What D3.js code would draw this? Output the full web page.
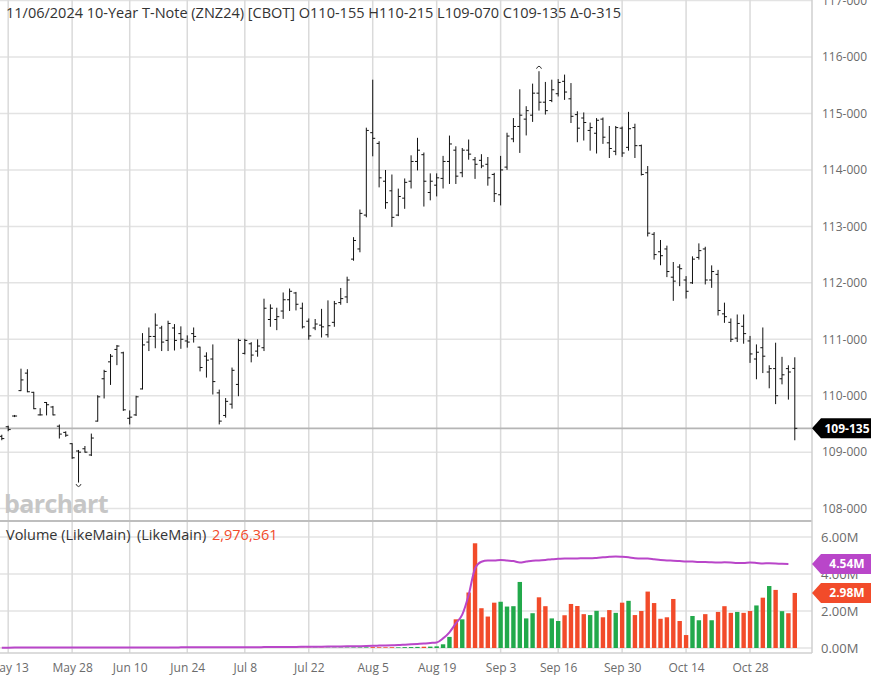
<!DOCTYPE html>
<html>
<head>
<meta charset="utf-8">
<script src="https://cdn.jsdelivr.net/npm/d3@7"></script>
<style>
  html, body { margin: 0; padding: 0; background: #fff; }
  svg { display: block; font-family: "Open Sans", sans-serif; }
</style>
</head>
<body>
<div id="chart"></div>
<script>
// ---- data (ZNZ24 daily) ----
const dates = [
  "2024-05-10","2024-05-13","2024-05-14","2024-05-15","2024-05-16","2024-05-17","2024-05-20","2024-05-21","2024-05-22","2024-05-23","2024-05-24","2024-05-28","2024-05-29","2024-05-30","2024-05-31",
  "2024-06-03","2024-06-04","2024-06-05","2024-06-06","2024-06-07","2024-06-10","2024-06-11","2024-06-12","2024-06-13","2024-06-14","2024-06-17","2024-06-18","2024-06-20","2024-06-21","2024-06-24","2024-06-25","2024-06-26","2024-06-27","2024-06-28",
  "2024-07-01","2024-07-02","2024-07-03","2024-07-05","2024-07-08","2024-07-09","2024-07-10","2024-07-11","2024-07-12","2024-07-15","2024-07-16","2024-07-17","2024-07-18","2024-07-19","2024-07-22","2024-07-23","2024-07-24","2024-07-25","2024-07-26","2024-07-29","2024-07-30","2024-07-31",
  "2024-08-01","2024-08-02","2024-08-05","2024-08-06","2024-08-07","2024-08-08","2024-08-09","2024-08-12","2024-08-13","2024-08-14","2024-08-15","2024-08-16","2024-08-19","2024-08-20","2024-08-21","2024-08-22","2024-08-23","2024-08-26","2024-08-27","2024-08-28","2024-08-29","2024-08-30",
  "2024-09-03","2024-09-04","2024-09-05","2024-09-06","2024-09-09","2024-09-10","2024-09-11","2024-09-12","2024-09-13","2024-09-16","2024-09-17","2024-09-18","2024-09-19","2024-09-20","2024-09-23","2024-09-24","2024-09-25","2024-09-26","2024-09-27","2024-09-30",
  "2024-10-01","2024-10-02","2024-10-03","2024-10-04","2024-10-07","2024-10-08","2024-10-09","2024-10-10","2024-10-11","2024-10-14","2024-10-15","2024-10-16","2024-10-17","2024-10-18","2024-10-21","2024-10-22","2024-10-23","2024-10-24","2024-10-25","2024-10-28","2024-10-29","2024-10-30","2024-10-31",
  "2024-11-01","2024-11-04","2024-11-05","2024-11-06"
];

const opens = [
  109.28,109.45,109.64,110.09,110.40,110.06,109.66,109.88,109.80,109.46,109.35,109.15,109.02,109.06,108.95,
  109.55,110.30,110.60,110.82,110.76,109.60,109.66,110.12,110.95,111.05,111.20,110.98,111.20,111.10,110.97,111.10,110.86,110.70,110.65,
  110.05,109.65,109.85,110.20,110.75,110.92,110.79,110.85,111.35,111.35,111.50,111.70,111.82,111.55,111.32,111.20,111.25,111.08,111.30,111.65,111.75,112.42,
  112.60,113.20,114.66,114.47,113.80,113.63,113.20,113.50,113.80,114.15,114.27,113.60,113.73,113.85,114.15,114.35,113.95,114.35,114.18,114.17,114.10,113.92,
  113.56,114.05,114.55,114.77,114.90,114.97,115.36,115.20,115.23,115.35,115.57,115.26,114.98,114.92,114.70,114.65,114.90,114.48,114.33,114.74,
  114.40,114.75,114.43,113.95,112.86,112.55,112.60,112.10,112.28,112.05,112.00,112.45,112.60,112.05,112.15,111.45,111.30,111.02,111.23,110.97,110.65,110.85,110.42,
  110.48,110.30,110.48,110.484
];
const highs = [
  109.30,109.46,109.65,110.47,110.46,110.06,109.77,109.88,109.81,109.48,109.36,109.15,109.03,109.10,109.32,
  110.00,110.45,110.73,110.89,110.77,109.73,109.99,111.10,111.20,111.45,111.23,111.32,111.26,111.22,111.06,111.20,110.86,110.76,110.90,
  110.10,109.95,110.49,111.00,111.00,110.94,110.99,111.71,111.61,111.55,111.82,111.89,111.83,111.64,111.36,111.35,111.53,111.68,111.67,111.90,112.10,112.80,
  113.29,114.74,115.59,114.50,113.99,113.91,113.66,113.84,114.25,114.56,114.30,113.93,113.93,114.24,114.60,114.41,114.38,114.53,114.22,114.27,114.22,113.94,
  114.24,114.65,114.91,115.42,115.12,115.52,115.74,115.55,115.59,115.60,115.68,115.53,115.03,115.01,114.83,114.91,114.92,114.77,114.77,114.76,
  115.02,114.81,114.44,114.06,112.89,112.75,112.65,112.36,112.32,112.11,112.46,112.69,112.63,112.30,112.22,111.64,111.36,111.43,111.43,111.05,110.90,111.20,110.53,
  110.93,110.68,110.53,110.672
];
const lows = [
  109.22,109.38,109.63,110.09,110.07,109.77,109.66,109.66,109.66,109.25,109.28,108.89,108.47,109.00,108.94,
  109.55,109.96,110.20,110.55,109.74,109.50,109.65,110.12,110.80,110.85,110.80,110.80,110.81,110.84,110.86,110.95,110.44,110.33,110.03,
  109.50,109.62,109.78,110.00,110.74,110.60,110.70,110.80,111.23,111.17,111.37,111.51,111.52,111.20,111.00,111.17,111.04,111.04,111.23,111.62,111.65,112.40,
  112.55,113.17,114.25,113.70,113.32,113.00,113.19,113.32,113.68,114.00,113.36,113.47,113.54,113.68,113.76,113.76,113.88,114.19,113.85,114.04,113.73,113.44,
  113.38,114.01,114.50,114.31,114.62,114.86,115.06,114.99,115.21,115.31,115.25,114.84,114.50,114.53,114.35,114.30,114.47,114.22,114.27,114.24,
  114.35,114.22,113.91,112.83,112.42,112.32,112.11,111.69,111.95,111.73,111.99,112.42,111.98,111.92,111.43,111.30,110.96,110.96,110.93,110.59,110.30,110.41,110.14,
  109.86,110.21,109.94,109.219
];
const closes = [
  109.24,109.40,109.64,110.28,110.07,109.77,109.66,109.84,109.66,109.32,109.30,108.90,109.00,109.00,109.25,
  109.98,110.43,110.70,110.88,109.75,109.62,109.98,110.90,111.05,111.25,110.95,111.28,110.98,111.00,110.95,111.05,110.50,110.63,110.25,
  109.55,109.90,110.45,110.98,110.98,110.72,110.88,111.55,111.55,111.40,111.70,111.85,111.62,111.22,111.06,111.27,111.22,111.24,111.63,111.72,112.05,112.75,
  113.23,114.70,114.56,113.86,113.42,113.16,113.53,113.78,114.15,114.35,113.80,113.80,113.86,114.15,114.46,113.89,114.35,114.28,114.10,114.07,113.86,113.58,
  114.00,114.60,114.77,114.97,115.05,115.36,115.20,115.05,115.42,115.55,115.38,114.95,114.74,114.84,114.75,114.88,114.58,114.38,114.75,114.30,
  114.73,114.43,113.92,112.88,112.50,112.48,112.20,112.03,112.25,111.85,112.42,112.57,112.05,112.20,111.51,111.40,111.00,111.28,111.10,110.74,110.77,110.70,110.48,
  110.00,110.37,110.42,109.422
];

// volume and open interest, millions of contracts
const volumes = [
  0.004,0.003,0.002,0.005,0.004,0.003,0.003,0.004,0.003,0.005,0.004,0.006,0.007,0.005,0.006,
  0.005,0.006,0.007,0.005,0.008,0.006,0.007,0.009,0.008,0.007,0.006,0.008,0.007,0.006,0.008,0.009,0.007,0.008,0.010,
  0.009,0.010,0.008,0.007,0.011,0.010,0.012,0.013,0.011,0.012,0.014,0.013,0.015,0.014,0.016,0.018,0.017,0.019,0.020,0.022,0.024,0.028,
  0.030,0.035,0.045,0.040,0.038,0.042,0.036,0.048,0.052,0.060,0.070,0.075,0.090,0.20,0.60,1.55,1.55,3.00,5.66,2.15,1.70,2.45,
  2.50,2.24,2.26,3.57,1.60,1.88,2.74,2.26,1.60,1.46,1.77,2.38,2.27,1.83,1.78,2.01,1.66,2.05,1.90,2.45,
  2.55,1.78,2.00,3.05,2.43,1.58,1.66,2.65,1.46,0.70,1.73,1.50,1.83,1.50,1.95,2.26,1.90,1.95,1.90,2.00,2.30,2.72,3.35,
  3.14,1.99,1.88,2.976
];
const openInterest = [
  0.020,0.020,0.021,0.021,0.022,0.022,0.023,0.023,0.024,0.024,0.025,0.025,0.026,0.026,0.027,
  0.027,0.028,0.028,0.029,0.029,0.030,0.030,0.031,0.031,0.032,0.032,0.033,0.033,0.034,0.035,0.035,0.036,0.037,0.038,
  0.039,0.040,0.041,0.042,0.043,0.045,0.046,0.048,0.050,0.052,0.054,0.056,0.059,0.062,0.065,0.068,0.072,0.076,0.080,0.085,0.090,0.096,
  0.10,0.11,0.12,0.13,0.14,0.15,0.16,0.18,0.20,0.22,0.24,0.27,0.30,0.52,0.85,1.33,1.80,2.86,4.30,4.66,4.73,4.73,
  4.76,4.73,4.70,4.62,4.67,4.72,4.73,4.76,4.80,4.82,4.84,4.84,4.84,4.85,4.85,4.87,4.90,4.93,4.95,4.93,
  4.90,4.85,4.84,4.84,4.80,4.76,4.73,4.72,4.70,4.68,4.67,4.65,4.65,4.63,4.62,4.63,4.62,4.60,4.60,4.62,4.60,4.57,4.58,
  4.57,4.55,4.54,null
];

const tickDates = ["2024-05-13","2024-05-28","2024-06-10","2024-06-24","2024-07-08","2024-07-22","2024-08-05","2024-08-19","2024-09-03","2024-09-16","2024-09-30","2024-10-14","2024-10-28"];
const priceTicks = [108,109,110,111,112,113,114,115,116,117];
const volumeTicks = [0,2,4,6];

const headerText = "11/06/2024 10-Year T-Note (ZNZ24) [CBOT] O110-155 H110-215 L109-070 C109-135 \u0394-0-315";
const lastVolumeText = "2,976,361";

// ---- layout ----
const width = 874, height = 681;
const plotRight = 812;
const priceBottom = 520;
const volTop = 522, volBottom = 653;

const UP = "#22a94b", DOWN = "#f24b2a", PURPLE = "#b946c9";

const svg = d3.select("#chart").append("svg")
  .attr("width", width)
  .attr("height", height);

const x = d3.scaleLinear().domain([0, dates.length - 1]).range([1.8, 794.8]);
const y = d3.scaleLinear().domain([108, 117]).range([508.6, 0.6]);
const yv = d3.scaleLinear().domain([0, 6]).range([648, 537]);

const parse = d3.utcParse("%Y-%m-%d");
const fmtDate = d3.utcFormat("%b %-d");
const tickIdx = tickDates.map(d => dates.indexOf(d));
const fmtPrice = p => `${p}-000`;
const fmt32 = p => {
  const whole = Math.floor(p);
  const t = Math.round((p - whole) * 320);
  return `${whole}-${String(t).padStart(3, "0")}`;
};

svg.append("defs").append("clipPath").attr("id", "clipPrice")
  .append("rect").attr("x", 0).attr("y", 0).attr("width", plotRight).attr("height", priceBottom);
svg.select("defs").append("clipPath").attr("id", "clipVol")
  .append("rect").attr("x", 0).attr("y", volTop).attr("width", plotRight).attr("height", volBottom - volTop);

// =====================
// GRID
// =====================
const grid = svg.append("g").attr("stroke", "#e3e3e3").attr("stroke-width", 1.5);

grid.selectAll("line.hp").data(priceTicks).join("line")
  .attr("x1", 0).attr("x2", plotRight)
  .attr("y1", d => y(d)).attr("y2", d => y(d));

grid.append("g").selectAll("line").data(volumeTicks).join("line")
  .attr("x1", 0).attr("x2", plotRight)
  .attr("y1", d => yv(d)).attr("y2", d => yv(d));

grid.append("g").selectAll("line").data(tickIdx).join("line")
  .attr("stroke", "#dadada")
  .attr("x1", d => x(d)).attr("x2", d => x(d))
  .attr("y1", 0).attr("y2", priceBottom);

grid.append("g").selectAll("line").data(tickIdx).join("line")
  .attr("stroke", "#dadada")
  .attr("x1", d => x(d)).attr("x2", d => x(d))
  .attr("y1", volTop).attr("y2", volBottom);

// frame lines
svg.append("line").attr("x1", 0).attr("x2", plotRight).attr("y1", 521).attr("y2", 521)
  .attr("stroke", "#a8a8a8").attr("stroke-width", 1.5);
svg.append("line").attr("x1", 0).attr("x2", plotRight).attr("y1", volBottom).attr("y2", volBottom)
  .attr("stroke", "#d0d0d0").attr("stroke-width", 1.5);
svg.append("line").attr("x1", plotRight).attr("x2", plotRight).attr("y1", 0).attr("y2", volBottom)
  .attr("stroke", "#cfcfcf").attr("stroke-width", 1.5);

// =====================
// WATERMARK
// =====================
svg.append("text")
  .attr("x", 4).attr("y", 513)
  .attr("font-size", 25).attr("font-weight", 700)
  .attr("letter-spacing", -0.6)
  .attr("fill", "#c6c6c6")
  .text("barchart");

// =====================
// LAST PRICE LINE
// =====================
const lastClose = closes[closes.length - 1];
svg.append("line")
  .attr("x1", 0).attr("x2", plotRight)
  .attr("y1", y(lastClose)).attr("y2", y(lastClose))
  .attr("stroke", "#b5b5b5").attr("stroke-width", 1.8);

// =====================
// OHLC BARS
// =====================
const bars = svg.append("g").attr("clip-path", "url(#clipPrice)")
  .attr("stroke", "#111").attr("stroke-width", 1);

const rows = dates.map((d, i) => ({ i, o: opens[i], h: highs[i], l: lows[i], c: closes[i] }));

bars.append("g").selectAll("line").data(rows).join("line")
  .attr("x1", d => x(d.i)).attr("x2", d => x(d.i))
  .attr("y1", d => y(d.h) - 0.5).attr("y2", d => y(d.l) + 0.5);
bars.append("g").selectAll("line").data(rows).join("line")
  .attr("x1", d => x(d.i) - 2.5).attr("x2", d => x(d.i))
  .attr("y1", d => y(d.o)).attr("y2", d => y(d.o));
bars.append("g").selectAll("line").data(rows).join("line")
  .attr("x1", d => x(d.i)).attr("x2", d => x(d.i) + 2.5)
  .attr("y1", d => y(d.c)).attr("y2", d => y(d.c));

// high / low markers
const hiI = d3.maxIndex(highs), loI = d3.minIndex(lows);
svg.append("path")
  .attr("d", `M${x(hiI) - 2.5},${y(highs[hiI]) - 3} Q${x(hiI)},${y(highs[hiI]) - 8} ${x(hiI) + 2.5},${y(highs[hiI]) - 3}`)
  .attr("fill", "none").attr("stroke", "#333").attr("stroke-width", 1);
svg.append("path")
  .attr("d", `M${x(loI) - 2.5},${y(lows[loI]) + 2} Q${x(loI)},${y(lows[loI]) + 7} ${x(loI) + 2.5},${y(lows[loI]) + 2}`)
  .attr("fill", "none").attr("stroke", "#333").attr("stroke-width", 1);

// =====================
// VOLUME
// =====================
const vol = svg.append("g").attr("clip-path", "url(#clipVol)");
vol.selectAll("rect").data(rows).join("rect")
  .attr("x", d => x(d.i) - 2.2)
  .attr("width", 4.4)
  .attr("y", d => yv(volumes[d.i]))
  .attr("height", d => yv(0) - yv(volumes[d.i]))
  .attr("fill", d => d.c >= d.o ? UP : DOWN);

const oiLine = d3.line()
  .defined(d => d != null)
  .x((d, i) => x(i))
  .y(d => yv(d))
  .curve(d3.curveMonotoneX);
vol.append("path")
  .datum(openInterest)
  .attr("d", oiLine)
  .attr("fill", "none")
  .attr("stroke", PURPLE)
  .attr("stroke-width", 2);

// =====================
// AXES
// =====================
const priceAxis = svg.append("g")
  .attr("transform", `translate(${plotRight},0)`)
  .call(d3.axisRight(y).tickValues(priceTicks).tickFormat(fmtPrice).tickSize(0).tickPadding(10));
priceAxis.select(".domain").remove();
priceAxis.selectAll("text").attr("font-family", "Open Sans").attr("font-size", 12).attr("fill", "#6b6b6b");

const volAxis = svg.append("g")
  .attr("transform", `translate(${plotRight},0)`)
  .call(d3.axisRight(yv).tickValues(volumeTicks).tickFormat(d => d3.format(".2f")(d) + "M").tickSize(0).tickPadding(9));
volAxis.select(".domain").remove();
volAxis.selectAll("text").attr("font-family", "Open Sans").attr("font-size", 13).attr("fill", "#6b6b6b");

const xAxis = svg.append("g")
  .attr("transform", `translate(0,${volBottom})`)
  .call(d3.axisBottom(x).tickValues(tickIdx).tickFormat(i => fmtDate(parse(dates[i]))).tickSize(0).tickPadding(10));
xAxis.select(".domain").remove();
xAxis.selectAll("text").attr("font-family", "Open Sans").attr("font-size", 12).attr("fill", "#6b6b6b");

// =====================
// BADGES
// =====================
function badge(yPos, label, fill) {
  const g = svg.append("g");
  g.append("path")
    .attr("d", `M${plotRight},${yPos} L${plotRight + 9},${yPos - 10} L${plotRight + 59},${yPos - 10} L${plotRight + 59},${yPos + 10} L${plotRight + 9},${yPos + 10} Z`)
    .attr("fill", fill);
  g.append("text")
    .attr("x", plotRight + 35).attr("y", yPos)
    .attr("dy", "0.36em")
    .attr("text-anchor", "middle")
    .attr("font-size", 12).attr("font-weight", 700)
    .attr("fill", "#fff")
    .text(label);
}
badge(y(lastClose), fmt32(lastClose), "#000");
const lastOI = openInterest.filter(d => d != null).pop();
badge(yv(lastOI), lastOI.toFixed(2) + "M", PURPLE);
badge(yv(volumes[volumes.length - 1]), volumes[volumes.length - 1].toFixed(2) + "M", DOWN);

// =====================
// TITLES
// =====================
svg.append("text")
  .attr("x", 6).attr("y", 18)
  .attr("font-size", 14.5).attr("fill", "#333")
  .text(headerText);

const vt = svg.append("text")
  .attr("y", 540)
  .attr("font-size", 14.5).attr("fill", "#333");
vt.append("tspan").attr("x", 6).text("Volume (LikeMain)");
vt.append("tspan").attr("x", 137).text("(LikeMain)");
vt.append("tspan").attr("x", 212).attr("fill", DOWN).text(lastVolumeText);
</script>
</body>
</html>
